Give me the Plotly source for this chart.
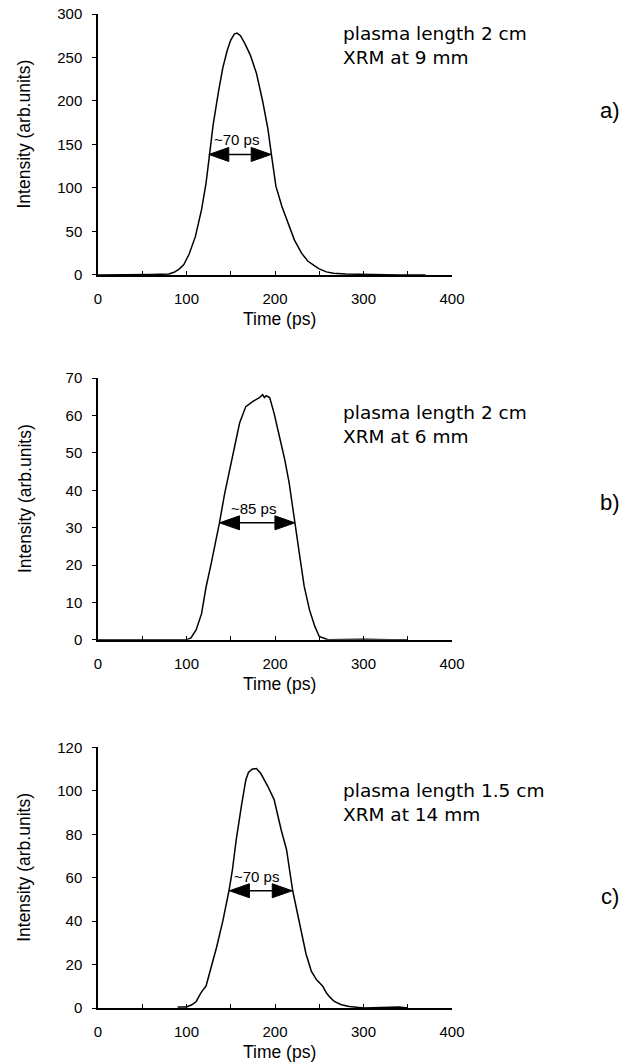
import plotly.graph_objects as go

# ---------------- data ----------------
t_a = [0, 30, 60, 80, 86, 92, 97, 103, 110, 117, 122, 126, 130, 136, 141, 146, 150, 154, 157, 161,
       166, 172, 179, 186, 192, 196, 201, 208, 215, 222, 230, 237, 244, 250, 258, 266, 280, 300, 340, 370]
i_a = [0, 0, 0.5, 1, 3, 7, 12, 24, 44, 75, 105, 138, 172, 210, 238, 258, 270, 277, 278, 275,
       266, 253, 232, 200, 168, 138, 102, 78, 58, 40, 25, 16, 11, 7, 3.5, 2, 1, 0.5, 0, 0]

t_b = [0, 50, 80, 100, 105, 111, 117, 122, 128, 133, 137, 143, 149, 154, 160, 167, 175, 182, 186,
       188, 190, 194, 199, 205, 211, 216, 223, 228, 233, 239, 245, 250, 260, 300, 330, 350]
i_b = [0, 0, 0.15, 0, 0.5, 2.7, 7, 14, 20.5, 26, 31, 39, 45.5, 51.7, 58, 62.4, 63.8, 64.7, 65.6,
       64.8, 65.3, 64.8, 60.6, 54.4, 48.2, 42, 31.2, 22.3, 14.3, 8, 3.6, 0.9, 0, 0.15, 0, 0]

t_c = [90, 100, 106, 111, 115, 118, 122, 128, 134, 141, 148, 152, 156, 162, 167, 170, 174, 179, 184,
       192, 199, 207, 213, 220, 228, 235, 241, 247, 254, 258, 262, 267, 275, 284, 300, 320, 340, 350]
i_c = [0.5, 0.5, 1.5, 3, 6, 8, 10, 19, 28, 40, 54, 64, 77, 93, 105, 108.5, 110, 110.3, 108,
       102, 96, 82, 73, 54, 38, 25, 17, 13, 10, 7, 5, 3, 1.5, 0.7, 0, 0.2, 0.5, 0]

series_t = [t_a, t_b, t_c]
series_i = [i_a, i_b, i_c]

y_max = [300, 70, 120]
y_dtick = [50, 10, 20]
x_tick_vals = [0, 100, 200, 300, 400]

# FWHM arrows: left time, right time, level, label
fwhm_left = [125.2, 137.3, 148.5]
fwhm_right = [195.7, 222.5, 219.5]
fwhm_level = [138.5, 31.3, 54.0]
fwhm_label = ["~70 ps", "~85 ps", "~70 ps"]

info_text = ["plasma length 2 cm<br>XRM at 9 mm",
             "plasma length 2 cm<br>XRM at 6 mm",
             "plasma length 1.5 cm<br>XRM at 14 mm"]
panel_label = ["a)", "b)", "c)"]

x_title = "Time (ps)"
y_title = "Intensity (arb.units)"

# ---------------- layout constants ----------------
domains = [[0.7375, 1.0], [0.3704, 0.6336], [0.0, 0.2621]]
info_y = [0.881, 0.8235, 0.788]
label_y = [0.632, 0.5235, 0.427]
FONT = "Liberation Sans, Arial, sans-serif"

fig = go.Figure()
layout = dict(
    width=639, height=1063,
    margin=dict(l=90, r=195, t=6, b=62.7, pad=0),
    paper_bgcolor="white", plot_bgcolor="white",
    showlegend=False,
    font=dict(family=FONT, color="black"),
)
annotations = []
shapes = []

for k in range(3):
    xa = "x" if k == 0 else f"x{k+1}"
    ya = "y" if k == 0 else f"y{k+1}"
    xkey = "xaxis" if k == 0 else f"xaxis{k+1}"
    ykey = "yaxis" if k == 0 else f"yaxis{k+1}"

    fig.add_trace(go.Scatter(x=series_t[k], y=series_i[k], mode="lines",
                             line=dict(color="black", width=1.5),
                             xaxis=xa, yaxis=ya, hoverinfo="skip"))

    layout[xkey] = dict(
        domain=[0, 1], anchor=ya, range=[0, 400], automargin=False,
        tickvals=x_tick_vals, ticks="inside", ticklen=4, tickwidth=1, tickcolor="black",
        minor=dict(dtick=50, tick0=0, ticks="inside", ticklen=4, tickwidth=1, tickcolor="black"),
        showline=True, linecolor="black", linewidth=1.5,
        showgrid=False, zeroline=False,
        tickfont=dict(family=FONT, size=15, color="black"),
        ticklabelstandoff=9, ticklabeloverflow="allow",
    )
    layout[ykey] = dict(
        domain=domains[k], anchor=xa, range=[0, y_max[k]], automargin=False,
        dtick=y_dtick[k], tick0=0, ticks="outside", ticklen=4, tickwidth=1, tickcolor="black",
        showline=True, linecolor="black", linewidth=1.5,
        showgrid=False, zeroline=False,
        tickfont=dict(family=FONT, size=15, color="black"),
        ticklabelstandoff=7, ticklabeloverflow="allow",
    )

    xd = f"{xa} domain"
    yd = f"{ya} domain"
    # axis titles
    annotations.append(dict(text=y_title, xref=xd, yref=yd, x=-0.2076, y=0.54,
                            textangle=-90, showarrow=False, xanchor="center", yanchor="middle",
                            font=dict(family=FONT, size=17.5, color="black")))
    annotations.append(dict(text=x_title, xref=xd, yref=yd, x=0.513, y=0, yshift=-44,
                            showarrow=False, xanchor="center", yanchor="middle",
                            font=dict(family=FONT, size=17.5, color="black")))
    # info text
    annotations.append(dict(text=info_text[k], xref=xd, yref=yd, x=0.687, y=info_y[k],
                            showarrow=False, xanchor="left", yanchor="middle", align="left",
                            font=dict(family="DejaVu Sans, sans-serif", size=18.5, color="black")))
    # panel label
    annotations.append(dict(text=panel_label[k], xref=xd, yref=yd, x=1.445, y=label_y[k],
                            showarrow=False, xanchor="center", yanchor="middle",
                            font=dict(family=FONT, size=22, color="black")))
    # FWHM arrow
    xl, xr, lv = fwhm_left[k], fwhm_right[k], fwhm_level[k]
    shapes.append(dict(type="line", xref=xa, yref=ya, x0=xl + 10, x1=xr - 10, y0=lv, y1=lv,
                       line=dict(color="black", width=1.5)))
    shapes.append(dict(type="path", xref=xa, yref=ya, xsizemode="pixel", ysizemode="pixel",
                       xanchor=xl, yanchor=lv, path="M0,0 L20,7 L20,-7 Z",
                       fillcolor="black", line=dict(color="black", width=1)))
    shapes.append(dict(type="path", xref=xa, yref=ya, xsizemode="pixel", ysizemode="pixel",
                       xanchor=xr, yanchor=lv, path="M0,0 L-20,7 L-20,-7 Z",
                       fillcolor="black", line=dict(color="black", width=1)))
    annotations.append(dict(text=fwhm_label[k], xref=xa, yref=ya, x=(xl + xr) / 2, y=lv,
                            xshift=-4, yshift=4, showarrow=False, xanchor="center", yanchor="bottom",
                            font=dict(family=FONT, size=15, color="black")))

layout["annotations"] = annotations
layout["shapes"] = shapes
fig.update_layout(**layout)
fig.write_html("out.html")
